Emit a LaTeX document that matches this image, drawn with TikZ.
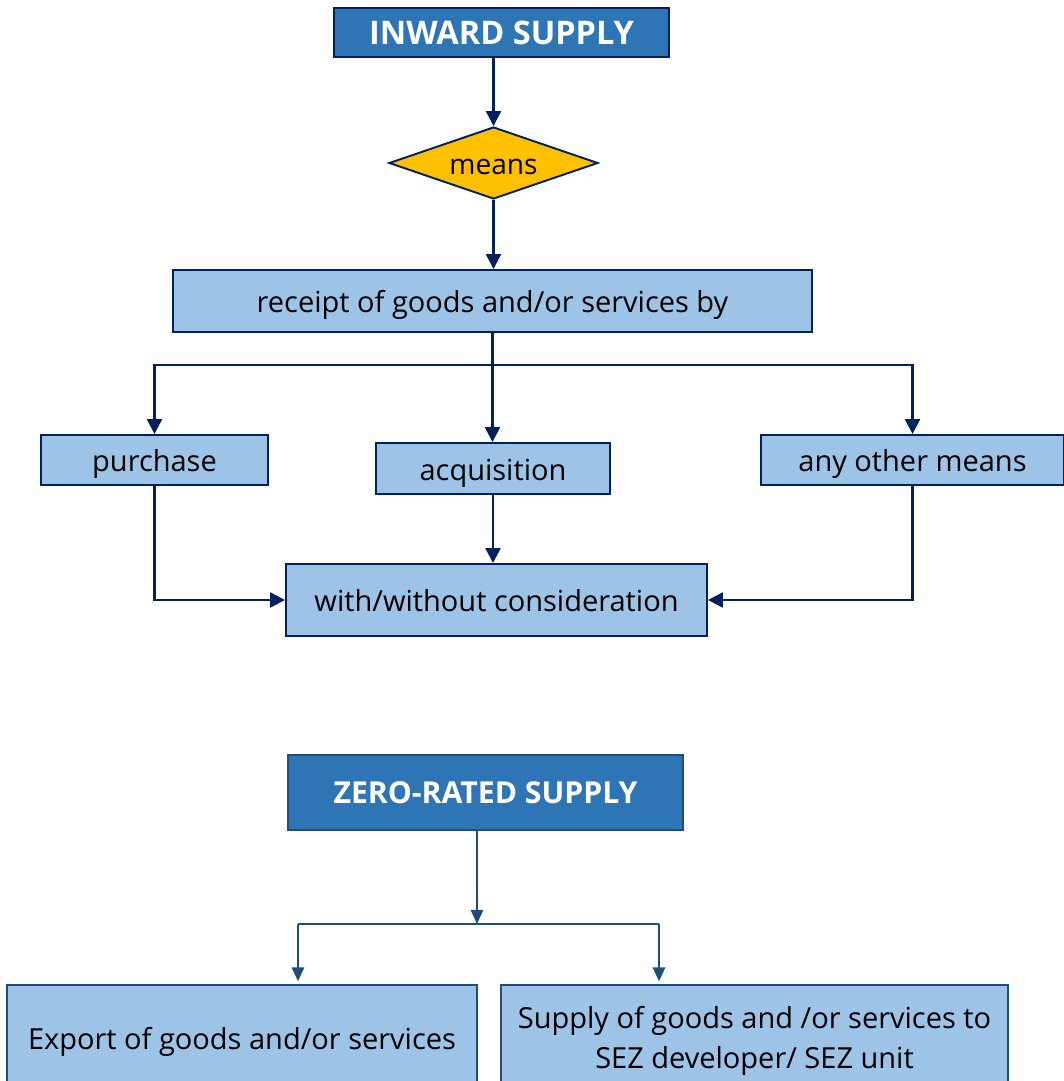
\documentclass[tikz,border=0pt]{standalone}
\usepackage{fontspec}
\setmainfont{Open Sans}
\usetikzlibrary{arrows.meta,shapes.geometric}

\definecolor{navy}{HTML}{002060}
\definecolor{steel}{HTML}{1F4E79}
\definecolor{headblue}{HTML}{2E75B6}
\definecolor{paleblue}{HTML}{9DC3E6}
\definecolor{gold}{HTML}{FFC000}
\newcommand{\pu}{0.02cm}

\begin{document}
\begin{tikzpicture}[x=0.02cm,y=-0.02cm,
    head/.style={draw=navy,fill=headblue,line width=1.1pt,inner sep=0pt,
        text=white,font=\fontsize{18.5}{22}\selectfont\bfseries},
    item/.style={draw=navy,fill=paleblue,line width=1.1pt,inner sep=0pt,
        text height=13.5pt,text depth=0pt,font=\fontsize{16.5}{20}\selectfont},
    choice/.style={diamond,draw=navy,fill=gold,line width=1.1pt,inner sep=0pt,
        aspect=2.9,text height=13.5pt,text depth=0pt,font=\fontsize{16}{20}\selectfont},
    arr/.style={draw=navy,line width=1.4pt,-{Triangle[length=8.5pt,width=8.5pt]}},
    arrb/.style={draw=steel,line width=1.1pt,-{Triangle[length=8pt,width=7pt]},shorten >=1.5pt},
    lineb/.style={draw=steel,line width=1.1pt}
]
\useasboundingbox (0,0) rectangle (1064,1081);

% inward supply
\node[head,minimum width=335*\pu,minimum height=49*\pu] (inw) at (501.5,32.5) {INWARD SUPPLY};
\node[choice,minimum width=209*\pu,minimum height=72*\pu] (means) at (493.5,163) {means};
\node[item,minimum width=639*\pu,minimum height=62*\pu] (rcpt) at (492.5,301) {receipt of goods and/or services by};
\node[item,minimum width=227*\pu,minimum height=50*\pu] (purch) at (154.5,460) {purchase};
\node[item,minimum width=234*\pu,minimum height=51*\pu] (acq) at (493,468.5) {acquisition};
\node[item,minimum width=303*\pu,minimum height=50*\pu] (other) at (912.5,460) {any other means};
\node[item,minimum width=421*\pu,minimum height=72*\pu] (cons) at (496.5,600) {with/without consideration};

\draw[arr] (inw.south -| means.north) -- (means.north);
\draw[arr] (means.south) -- (means.south |- rcpt.north);
\coordinate (bus) at (492.5,365);
\draw[arr] (rcpt.south) -- (rcpt.south |- acq.north);
\draw[arr] (bus) -| (purch.north);
\draw[arr] (bus) -| (other.north);
\draw[arr] (acq.south) -- (acq.south |- cons.north);
\draw[arr] (purch.south) |- (cons.west);
\draw[arr] (other.south) |- (cons.east);

% zero-rated supply
\node[head,draw=steel,minimum width=395*\pu,minimum height=75*\pu,
    font=\fontsize{17.2}{20}\selectfont\bfseries] (zero) at (485.5,792.5) {ZERO-RATED SUPPLY};
\node[item,draw=steel,minimum width=470*\pu,minimum height=106*\pu] (exp) at (242,1038) {Export of goods and/or services};
\node[item,draw=steel,minimum width=507*\pu,minimum height=112*\pu,align=center,
    text height=,text depth=,font=\fontsize{16.5}{23}\selectfont] (sez) at (754.5,1041)
    {Supply of goods and /or services to\\SEZ developer/ SEZ unit};

\coordinate (split) at (477,924);
\coordinate (lft) at (298,924);
\coordinate (rgt) at (659,924);
\draw[arrb,shorten >=0pt] (split |- zero.south) -- (split);
\draw[lineb] (lft) -- (rgt);
\draw[arrb] (lft) -- (lft |- exp.north);
\draw[arrb] (rgt) -- (rgt |- sez.north);
\end{tikzpicture}
\end{document}
